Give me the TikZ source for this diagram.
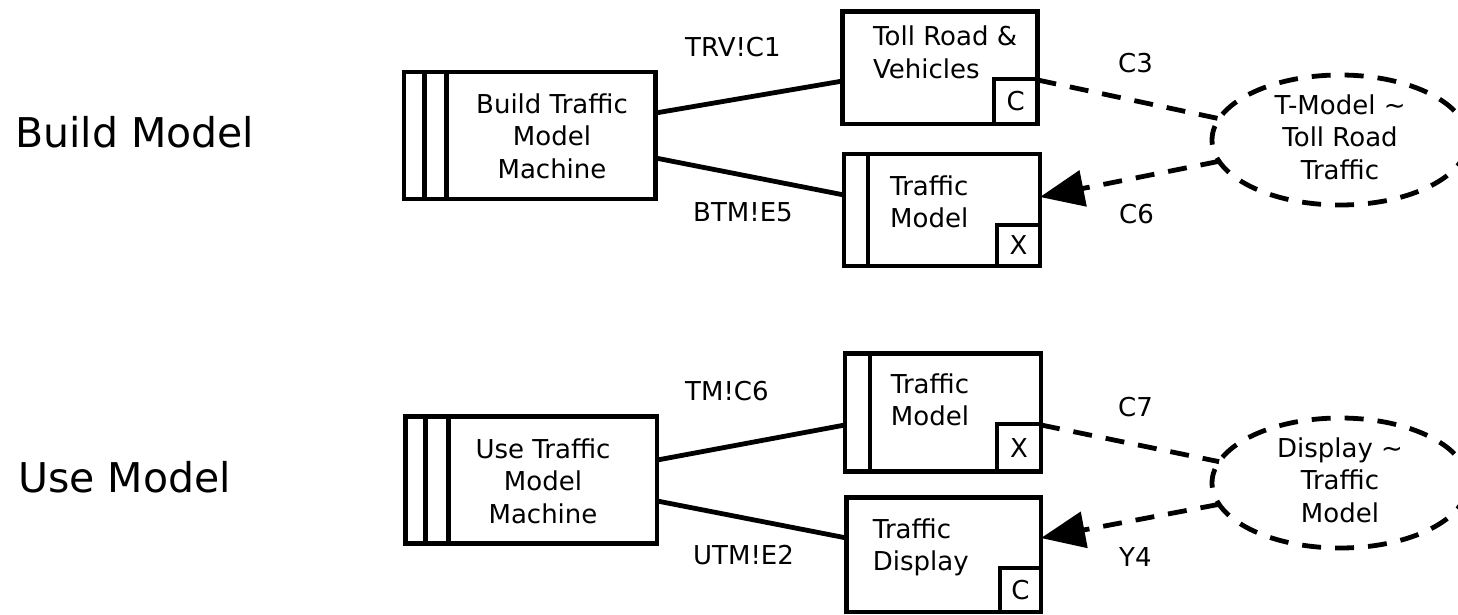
\documentclass[tikz,border=0pt]{standalone}
\usepackage{fontspec}
\setmainfont{DejaVu Sans}
\usetikzlibrary{shapes.geometric,arrows.meta,calc}
\begin{document}
\begin{tikzpicture}[x=1pt,y=-1pt,
  frame/.style={draw, line width=4.8pt, rectangle, inner sep=0pt, outer sep=0pt},
  corner/.style={frame, anchor=south east, font=\fontsize{26}{30}\selectfont},
  bubble/.style={draw, ellipse, line width=4.8pt, dash pattern=on 19pt off 14pt,
                 minimum width=256pt, minimum height=130pt, inner sep=0pt, outer sep=0pt},
  txt/.style={inner sep=0pt, font=\fontsize{26}{32.5}\selectfont},
  lbl/.style={inner sep=0pt, anchor=base west, font=\fontsize{26}{30}\selectfont},
  big/.style={inner sep=0pt, anchor=base west, font=\fontsize{41}{48}\selectfont},
  wire/.style={line width=4.8pt},
  flow/.style={line width=4.8pt, dash pattern=on 19pt off 14pt},
  tip/.style={-{Triangle[length=44pt,width=36pt]}}]
\useasboundingbox (0,0) rectangle (1458,615);

% ---------- Build Model ----------
\node[big] (bmodel) at (15,147) {Build Model};

\node[frame, minimum width=251.5pt, minimum height=127pt] (m1) at (529.75,135.5) {};
\draw[wire] ($(m1.north west)+(20.3,0)$) -- ($(m1.south west)+(20.3,0)$);
\draw[wire] ($(m1.north west)+(42.7,0)$) -- ($(m1.south west)+(42.7,0)$);
\node[txt, align=center, anchor=north] (m1t) at (552,93.2) {Build Traffic\\Model\\Machine};

\node[frame, minimum width=194.7pt, minimum height=112.3pt] (tr) at (940.15,67.85) {};
\node[corner, minimum width=43.5pt, minimum height=45pt] (trc) at (tr.south east) {C};
\node[txt, align=left, anchor=north west] (trt) at (873,26) {Toll Road \&\\Vehicles};

\node[frame, minimum width=196pt, minimum height=112pt] (tm1) at (942,210) {};
\draw[wire] ($(tm1.north west)+(24,0)$) -- ($(tm1.south west)+(24,0)$);
\node[corner, minimum width=43pt, minimum height=41pt] (tm1c) at (tm1.south east) {X};
\node[txt, align=left, anchor=north west] (tm1t) at (890,175.2) {Traffic\\Model};

\node[bubble] (e1) at (1340,140) {};
\node[txt, align=center, anchor=north] (e1t) at (1340,94.2) {T-Model \textasciitilde\\Toll Road\\Traffic};

\draw[wire] ($(m1.north east)!0.323!(m1.south east)$) -- ($(tr.north west)!0.617!(tr.south west)$);
\draw[wire] ($(m1.north east)!0.677!(m1.south east)$) -- ($(tm1.north west)!0.366!(tm1.south west)$);
\draw[flow] ($(tr.north east)!0.608!(tr.south east)$) -- (e1.170);
\draw[flow, tip] (e1.190) -- ($(tm1.north east)!0.384!(tm1.south east)$);

\node[lbl] (l1) at (685,57) {TRV!C1};
\node[lbl] (l2) at (693,221) {BTM!E5};
\node[lbl] (l3) at (1118,73) {C3};
\node[lbl] (l4) at (1119,223) {C6};

% ---------- Use Model ----------
\node[big] (umodel) at (18,492) {Use Model};

\node[frame, minimum width=251.2pt, minimum height=127pt] (m2) at (531.4,480) {};
\draw[wire] ($(m2.north west)+(19.7,0)$) -- ($(m2.south west)+(19.7,0)$);
\draw[wire] ($(m2.north west)+(42.5,0)$) -- ($(m2.south west)+(42.5,0)$);
\node[txt, align=center, anchor=north] (m2t) at (543,438.2) {Use Traffic\\Model\\Machine};

\node[frame, minimum width=196pt, minimum height=118pt] (tm2) at (943,412.7) {};
\draw[wire] ($(tm2.north west)+(25,0)$) -- ($(tm2.south west)+(25,0)$);
\node[corner, minimum width=44pt, minimum height=47.7pt] (tm2c) at (tm2.south east) {X};
\node[txt, align=left, anchor=north west] (tm2t) at (890.7,373.2) {Traffic\\Model};

\node[frame, minimum width=194.3pt, minimum height=114.5pt] (td) at (943.85,554.75) {};
\node[corner, minimum width=41pt, minimum height=44pt] (tdc) at (td.south east) {C};
\node[txt, align=left, anchor=north west] (tdt) at (872.7,518.3) {Traffic\\Display};

\node[bubble] (e2) at (1340,483) {};
\node[txt, align=center, anchor=north] (e2t) at (1340,437.2) {Display \textasciitilde\\Traffic\\Model};

\draw[wire] ($(m2.north east)!0.343!(m2.south east)$) -- ($(tm2.north west)!0.604!(tm2.south west)$);
\draw[wire] ($(m2.north east)!0.665!(m2.south east)$) -- ($(td.north west)!0.354!(td.south west)$);
\draw[flow] ($(tm2.north east)!0.604!(tm2.south east)$) -- (e2.170);
\draw[flow, tip] (e2.190) -- ($(td.north east)!0.354!(td.south east)$);

\node[lbl] (l5) at (685,400) {TM!C6};
\node[lbl] (l6) at (693,564) {UTM!E2};
\node[lbl] (l7) at (1118,416) {C7};
\node[lbl] (l8) at (1119,566) {Y4};
\end{tikzpicture}
\end{document}
